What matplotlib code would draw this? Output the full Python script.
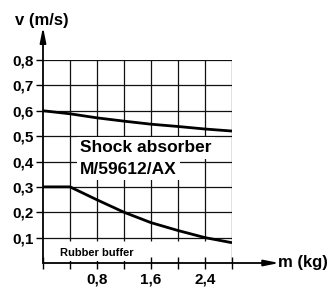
import matplotlib
matplotlib.use("Agg")
import matplotlib.pyplot as plt

plt.rcParams['font.family'] = ['Liberation Sans', 'DejaVu Sans']
plt.rcParams['font.weight'] = 'bold'

# Data
mass = [0.0, 0.4, 0.8, 1.2, 1.6, 2.0, 2.4, 2.8]
v_shock = [0.600, 0.588, 0.572, 0.559, 0.547, 0.538, 0.528, 0.520]
v_rubber = [0.300, 0.300, 0.249, 0.200, 0.159, 0.128, 0.100, 0.080]
x_ticks = [0.8, 1.6, 2.4]
x_tick_labels = ["0,8", "1,6", "2,4"]
x_minor = [0.0, 0.4, 1.2, 2.0, 2.8]
y_ticks = [0.1, 0.2, 0.3, 0.4, 0.5, 0.6, 0.7, 0.8]
y_tick_labels = ["0,1", "0,2", "0,3", "0,4", "0,5", "0,6", "0,7", "0,8"]
grid_x = [0.4, 0.8, 1.2, 1.6, 2.0, 2.4]

fig = plt.figure(figsize=(3.30, 2.89), dpi=100)
ax = fig.add_axes([43/330, (289-263)/289, 189/330, 203/289])
ax.set_xlim(0, 2.8)
ax.set_ylim(0, 0.8)
for s in ax.spines.values():
    s.set_visible(False)

# grid
ax.hlines(y_ticks, 0, 2.8, color='#111111', lw=0.9, zorder=1)
ax.vlines(grid_x, 0.085, 0.8, color='#111111', lw=0.9, zorder=1)
ax.vlines([2.8], 0, 0.8, color='#111111', lw=0.9, zorder=1)

# curves
ax.plot(mass, v_shock, color='black', lw=2.0, zorder=3, solid_capstyle='butt')
ax.plot(mass, v_rubber, color='black', lw=2.0, zorder=3, solid_capstyle='butt')

# axes with arrows
ax.annotate('', xy=(0, 0.93), xytext=(0, 0), annotation_clip=False,
            arrowprops=dict(arrowstyle='-|>,head_length=0.9,head_width=0.18',
                            lw=1.3, color='black', shrinkA=0, shrinkB=0), zorder=4)
ax.annotate('', xy=(3.5, 0), xytext=(0, 0), annotation_clip=False,
            arrowprops=dict(arrowstyle='-|>,head_length=0.9,head_width=0.18',
                            lw=1.3, color='black', shrinkA=0, shrinkB=0), zorder=4)

# ticks
ax.set_xticks(x_ticks)
ax.set_xticklabels(x_tick_labels, fontsize=11, fontweight='bold')
ax.set_xticks(x_minor, minor=True)
ax.tick_params(axis='x', which='both', direction='inout', length=9, width=1.0, pad=2)
ax.set_yticks(y_ticks)
ax.set_yticklabels(y_tick_labels, fontsize=11, fontweight='bold')
ax.tick_params(axis='y', direction='out', length=5, width=1.0, pad=2)

# texts
ax.text(0.55, 0.455, "Shock absorber", fontsize=12.5, fontweight='bold',
        ha='left', va='center',
        bbox=dict(facecolor='white', edgecolor='none', pad=2.5), zorder=5)
ax.text(0.55, 0.37, "M/59612/AX", fontsize=12.5, fontweight='bold',
        ha='left', va='center',
        bbox=dict(facecolor='white', edgecolor='none', pad=2.5), zorder=6)
ax.text(0.8, 0.04, "Rubber buffer", fontsize=8, fontweight='bold',
        ha='center', va='center',
        bbox=dict(facecolor='white', edgecolor='none', pad=2.5), zorder=5)

fig.text(15/330, 1 - 21/289, "v (m/s)", fontsize=12, fontweight='bold',
         ha='left', va='center')
fig.text(278/330, 1 - 263/289, "m (kg)", fontsize=12, fontweight='bold',
         ha='left', va='center')

fig.savefig("out.png", dpi=100)
